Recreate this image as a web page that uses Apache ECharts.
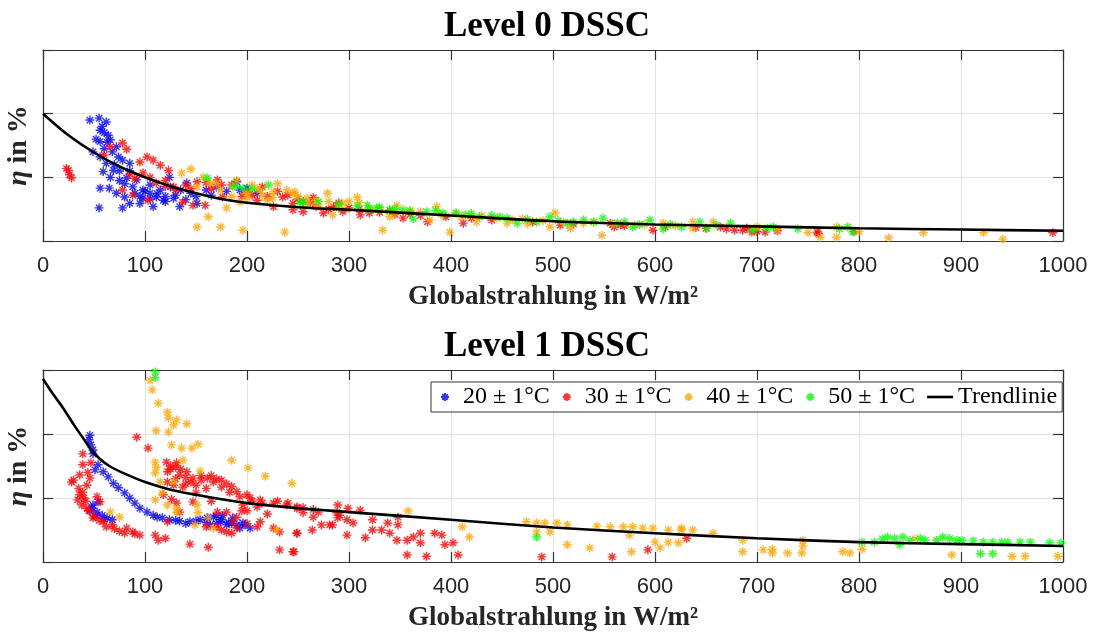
<!DOCTYPE html>
<html lang="de">
<head>
    <meta charset="UTF-8">
    <title>Level 0 / Level 1 DSSC</title>
    <script type="text/javascript" src="https://cdn.jsdelivr.net/npm/echarts@6/dist/echarts.min.js"></script>
</head>
<body style="margin:0; background:#fff;">
<div id="chart" style="width:1094px; height:635px;"></div>

<script type="text/javascript">
    // x-Achse: Globalstrahlung in W/m², y: Wirkungsgrad (Skala ohne Beschriftung, 0..3)
    var xTicks = [0, 100, 200, 300, 400, 500, 600, 700, 800, 900, 1000];
    var seriesNames = ['20 ± 1°C', '30 ± 1°C', '40 ± 1°C', '50 ± 1°C', 'Trendlinie'];

    // ---- Level 0 ----
    var l0Blue = [
        [46,1.90],[55,1.93],[62,1.87],[56,1.74],[64,1.66],[56,1.56],[66,1.59],[49,1.40],[56,1.32],[62,1.22],
        [72,1.48],[74,1.32],[69,1.11],[59,1.09],[78,1.27],[85,1.22],[82,0.99],[56,0.83],[65,0.83],[72,0.75],
        [80,0.69],[85,0.59],[95,0.59],[55,0.52],[78,0.52],[92,0.96],[98,0.80],[105,0.75],[111,0.69],[118,0.64],
        [124,1.00],[128,0.67],[134,0.54],[141,0.91],[151,0.59],[108,0.54],[190,0.93],[193,0.80],[98,0.67],[115,0.80],
        [105,0.88],[80,0.90],[88,0.85],[100,0.78],[112,0.74],[120,0.70],[130,0.72],[140,0.65],[145,0.75],[160,0.80],
        [170,0.85],[180,0.78],[200,0.83],[210,0.75],[52,1.60],[60,1.45],[68,1.40],[70,1.20],[66,1.00],[75,0.95],
        [90,0.75],[95,0.70],[105,0.66],[120,0.62],[150,0.70],[165,0.72],[125,0.85],[135,0.80],[60,1.70],[58,1.80],
        [63,1.55],[75,1.10],[85,1.10]
    ];
    var l0Red = [
        [25,1.11],[26,1.04],[28,0.99],[23,1.14],[78,1.54],[82,1.44],[95,1.24],[102,1.32],[108,1.27],[115,1.19],
        [123,1.11],[98,1.07],[105,1.00],[78,0.80],[88,0.72],[103,0.64],[111,0.91],[128,0.85],[137,0.61],[147,0.56],
        [159,0.56],[151,0.93],[171,0.96],[176,0.69],[200,0.77],[210,0.64],[226,0.54],[235,0.69],[245,0.49],[245,0.59],
        [255,0.46],[268,0.54],[275,0.44],[285,0.54],[294,0.46],[311,0.41],[320,0.44],[353,0.36],[377,0.30],[412,0.28],
        [507,0.25],[556,0.28],[566,0.25],[598,0.17],[664,0.22],[678,0.17],[686,0.17],[695,0.14],[708,0.14],[759,0.14],
        [990,0.13],[60,1.35],[66,1.48],[120,0.95],[140,0.88],[165,0.82],[185,0.88],[195,0.70],[215,0.85],[230,0.78],
        [240,0.72],[255,0.62],[265,0.68],[290,0.60],[300,0.52],[340,0.48],[360,0.42],[395,0.38],[440,0.33],[480,0.30],
        [520,0.27],[650,0.20],[720,0.16],[760,0.12],[795,0.15],[205,0.72],[220,0.70],[250,0.66],[262,0.60],[280,0.50],
        [310,0.50],[330,0.45],[345,0.42],[370,0.40],[420,0.36],[560,0.22],[570,0.24],[610,0.22],[640,0.21],[670,0.19],
        [690,0.20],[700,0.15],[175,0.88],[160,0.92],[145,0.82],[130,0.80],[120,0.86],[90,0.98],[85,1.05]
    ];
    var l0Orange = [
        [136,1.07],[145,1.13],[157,1.00],[151,0.85],[164,0.91],[174,0.80],[186,0.85],[200,0.75],[213,0.80],[226,0.77],
        [239,0.80],[245,0.75],[193,0.61],[180,0.52],[162,0.38],[151,0.22],[174,0.22],[196,0.17],[237,0.14],[220,0.64],
        [247,0.77],[259,0.67],[268,0.64],[279,0.75],[294,0.59],[308,0.69],[284,0.41],[333,0.17],[347,0.56],[340,0.38],
        [386,0.54],[379,0.33],[399,0.14],[405,0.44],[425,0.30],[455,0.28],[475,0.27],[502,0.44],[497,0.22],[517,0.20],
        [548,0.09],[608,0.28],[637,0.30],[657,0.30],[637,0.20],[750,0.13],[762,0.06],[778,0.22],[778,0.06],[829,0.05],
        [863,0.13],[922,0.13],[941,0.03],[170,0.90],[190,0.95],[205,0.88],[230,0.90],[250,0.70],[280,0.62],[310,0.60],
        [320,0.52],[360,0.48],[420,0.40],[470,0.35],[540,0.30],[580,0.25],[700,0.22],[720,0.18],[800,0.15],[215,0.72],
        [225,0.68],[260,0.58],[270,0.55],[290,0.52],[300,0.62],[330,0.50],[345,0.45],[370,0.46],[390,0.42],[410,0.38],
        [430,0.40],[445,0.36],[460,0.33],[490,0.32],[510,0.30],[530,0.28],[560,0.27],[590,0.26],[620,0.24],[185,0.70],
        [200,0.68],[210,0.82]
    ];
    var l0Green = [
        [161,0.99],[188,0.86],[196,0.83],[205,0.82],[221,0.88],[252,0.61],[255,0.61],[308,0.55],[318,0.56],[327,0.52],
        [340,0.49],[353,0.49],[363,0.35],[376,0.46],[392,0.44],[405,0.44],[414,0.41],[428,0.38],[448,0.38],[465,0.28],
        [484,0.30],[497,0.38],[514,0.28],[530,0.33],[549,0.36],[563,0.28],[578,0.22],[595,0.33],[608,0.19],[626,0.22],
        [644,0.30],[651,0.20],[674,0.28],[696,0.17],[710,0.20],[716,0.22],[740,0.19],[781,0.19],[789,0.22],[794,0.14],
        [320,0.50],[330,0.53],[345,0.51],[360,0.47],[385,0.48],[420,0.43],[440,0.40],[455,0.36],[475,0.34],[505,0.32],
        [520,0.30],[540,0.30],[570,0.30],[585,0.26],[615,0.26],[660,0.25],[290,0.58],[270,0.62]
    ];
    var l0Trend = [
        [0,2.00],[25,1.66],[50,1.39],[75,1.17],[100,1.00],[125,0.86],[150,0.75],[175,0.66],[200,0.60],[250,0.53],
        [300,0.49],[400,0.40],[500,0.31],[600,0.26],[700,0.23],[800,0.20],[900,0.18],[1000,0.16]
    ];

    // ---- Level 1 ----
    var l1Blue = [
        [46,1.98],[45,1.91],[47,1.83],[49,1.75],[49,1.69],[54,1.52],[51,1.44],[59,1.41],[64,1.33],[69,1.23],
        [74,1.16],[80,1.08],[85,1.00],[90,0.92],[95,0.84],[102,0.78],[108,0.73],[117,0.69],[124,0.66],[134,0.64],
        [144,0.63],[154,0.66],[161,0.69],[167,0.70],[176,0.73],[186,0.69],[196,0.61],[203,0.53],[49,0.89],[48,0.84],
        [53,0.78],[58,0.73],[63,0.69],[54,0.94],[174,0.63],[180,0.58],[193,0.53],[164,0.58],[112,0.70],[130,0.65],
        [150,0.64],[170,0.72],[185,0.60],[140,0.60],[160,0.62],[175,0.66],[182,0.62],[190,0.58],[198,0.58],[170,0.60],
        [46,0.80],[52,0.72],[60,0.67],[68,0.66]
    ];
    var l1Red = [
        [28,1.25],[36,1.36],[39,1.69],[39,1.52],[46,1.31],[43,1.20],[39,1.09],[34,0.97],[38,0.89],[43,0.84],
        [53,1.02],[56,0.94],[49,0.69],[59,0.63],[68,0.58],[82,0.53],[88,0.47],[95,0.42],[110,0.42],[113,0.34],
        [120,0.37],[144,0.28],[162,0.23],[92,1.95],[103,1.78],[121,1.56],[131,1.55],[122,1.41],[134,1.36],[141,1.41],
        [147,1.31],[122,1.25],[128,1.20],[137,1.17],[161,1.31],[167,1.25],[175,1.17],[183,1.09],[193,1.02],[203,1.00],
        [213,0.97],[226,0.92],[239,0.89],[249,0.84],[131,0.92],[134,0.78],[147,0.94],[171,0.78],[180,0.78],[186,0.63],
        [190,0.53],[196,0.89],[213,0.63],[226,0.53],[232,0.47],[249,0.45],[232,0.19],[245,0.16],[180,0.47],[122,0.63],
        [249,0.86],[255,0.77],[265,0.70],[249,0.45],[264,0.50],[246,0.16],[273,0.58],[284,0.58],[289,0.89],[289,0.69],
        [298,0.66],[298,0.42],[299,0.84],[311,0.81],[304,0.61],[323,0.66],[316,0.38],[323,0.50],[332,0.50],[338,0.61],
        [340,0.45],[348,0.70],[348,0.58],[347,0.34],[357,0.34],[357,0.11],[363,0.39],[370,0.45],[370,0.30],[376,0.09],
        [384,0.45],[391,0.42],[394,0.27],[402,0.30],[407,0.11],[489,0.08],[558,0.08],[593,0.19],[631,0.37],[288,0.77],
        [291,0.73],[281,0.58],[125,1.50],[130,1.30],[140,1.22],[155,1.28],[160,1.15],[150,1.08],[118,1.05],[126,0.98],
        [165,0.95],[200,0.80],[210,0.86],[220,0.75],[125,1.45],[130,1.48],[135,1.45],[140,1.32],[145,1.25],[150,1.20],
        [155,1.35],[165,1.35],[170,1.30],[175,1.28],[180,1.22],[185,1.18],[190,1.10],[200,1.05],[205,0.95],[215,0.92],
        [230,0.95],[240,0.92],[255,0.85],[265,0.82],[270,0.78],[160,0.55],[170,0.55],[175,0.50],[185,0.45],[190,0.70],
        [195,0.80],[200,0.60],[210,0.55],[40,1.00],[42,0.95],[45,0.80],[50,0.72],[55,0.65],[62,0.55],[70,0.52],
        [75,0.48],[80,0.45],[90,0.44],[35,1.15],[30,1.28],[44,1.40],[47,1.55],[36,1.05]
    ];
    var l1Orange = [
        [105,2.84],[107,2.69],[113,2.48],[122,2.34],[123,2.25],[131,2.22],[128,2.14],[141,2.16],[111,2.05],[123,2.03],
        [126,1.83],[136,1.78],[146,1.78],[152,1.84],[185,1.59],[201,1.47],[218,1.34],[244,1.23],[110,1.56],[111,1.48],
        [110,1.39],[115,1.25],[137,1.59],[154,1.42],[128,1.25],[117,1.08],[110,0.97],[122,0.89],[131,0.84],[131,0.77],
        [151,0.89],[152,0.77],[66,0.78],[75,0.70],[162,0.69],[149,0.58],[167,0.53],[229,0.50],[358,0.80],[411,0.55],
        [418,0.39],[474,0.63],[484,0.61],[492,0.61],[504,0.61],[514,0.58],[484,0.47],[497,0.47],[514,0.27],[536,0.22],
        [543,0.56],[556,0.55],[569,0.55],[575,0.42],[578,0.55],[588,0.53],[598,0.53],[577,0.16],[600,0.31],[605,0.22],
        [613,0.50],[613,0.31],[623,0.30],[626,0.50],[626,0.53],[637,0.50],[657,0.45],[686,0.34],[686,0.16],[706,0.19],
        [715,0.20],[715,0.14],[730,0.14],[744,0.14],[745,0.34],[745,0.25],[784,0.16],[791,0.14],[803,0.20],[855,0.36],
        [891,0.11],[950,0.09],[963,0.09],[995,0.09]
    ];
    var l1Green = [
        [110,2.97],[110,2.88],[484,0.39],[803,0.31],[815,0.31],[823,0.36],[828,0.39],[835,0.37],[840,0.27],[843,0.39],
        [850,0.34],[860,0.37],[865,0.34],[876,0.34],[882,0.39],[889,0.37],[896,0.34],[901,0.34],[912,0.33],[922,0.31],
        [931,0.31],[940,0.31],[946,0.31],[958,0.31],[968,0.31],[987,0.30],[998,0.30],[919,0.13],[931,0.13]
    ];
    var l1Trend = [
        [0,2.86],[10,2.62],[20,2.40],[30,2.15],[40,1.92],[47,1.76],[55,1.62],[65,1.50],[80,1.38],[100,1.25],
        [125,1.13],[150,1.05],[175,0.98],[200,0.92],[250,0.84],[300,0.78],[400,0.66],[500,0.54],[600,0.45],[700,0.37],
        [800,0.31],[900,0.28],[1000,0.25]
    ];

    var star = 'path://M5,0L5,10M0,5L10,5M1.5,1.5L8.5,8.5M1.5,8.5L8.5,1.5';
    var lineIcon = 'path://M0,0L26,0L26,2.6L0,2.6Z';
    var colors = ['#0000ff', '#ff0000', '#ffa500', '#00ff00'];
    var serif = 'Liberation Serif';
    var axisCol = '#333333';

    function scatter(name, data, col, gi) {
        return {
            name: name, type: 'scatter', xAxisIndex: gi * 2, yAxisIndex: gi * 2,
            data: data, symbol: star, symbolSize: 9,
            itemStyle: { color: col, borderColor: col, borderWidth: 1.4 },
            emphasis: { disabled: true }
        };
    }
    function trend(data, gi) {
        return {
            name: 'Trendlinie', type: 'line', xAxisIndex: gi * 2, yAxisIndex: gi * 2,
            data: data, smooth: 0.3, showSymbol: false, symbol: 'none', z: 5,
            lineStyle: { color: '#000', width: 2.6 }, itemStyle: { color: '#000' }
        };
    }
    function xMain(gi) {
        return {
            type: 'value', gridIndex: gi, min: 0, max: 1000, interval: 100,
            name: 'Globalstrahlung in W/m²', nameLocation: 'middle', nameGap: 43,
            nameTextStyle: { fontFamily: serif, fontWeight: 'bold', fontSize: 27, color: '#262626' },
            axisLine: { onZero: false, lineStyle: { color: axisCol, width: 1.2 } },
            axisTick: { inside: true, length: 10, lineStyle: { color: axisCol, width: 1.2 } },
            axisLabel: { margin: 14, fontFamily: 'Liberation Sans', fontSize: 22, color: '#262626',
                         formatter: function (v) { return String(v); } },
            splitLine: { show: true, lineStyle: { color: '#e3e3e3', width: 1 } }
        };
    }
    function xTop(gi) {
        return {
            type: 'value', gridIndex: gi, position: 'top', min: 0, max: 1000, interval: 100,
            axisLine: { onZero: false, lineStyle: { color: axisCol, width: 1.2 } },
            axisTick: { inside: true, length: 10, lineStyle: { color: axisCol, width: 1.2 } },
            axisLabel: { show: false }, splitLine: { show: false }
        };
    }
    function yMain(gi) {
        return {
            type: 'value', gridIndex: gi, min: 0, max: 3, interval: 1,
            name: '{i|η} in %', nameLocation: 'middle', nameGap: 10,
            nameTextStyle: {
                fontFamily: serif, fontWeight: 'bold', fontSize: 28, color: '#262626',
                rich: { i: { fontFamily: serif, fontStyle: 'italic', fontWeight: 'bold', fontSize: 28, color: '#262626' } }
            },
            axisLine: { show: true, onZero: false, lineStyle: { color: axisCol, width: 1.2 } },
            axisTick: { show: true, inside: true, length: 10, lineStyle: { color: axisCol, width: 1.2 } },
            axisLabel: { show: false },
            splitLine: { show: true, lineStyle: { color: '#e3e3e3', width: 1 } }
        };
    }
    function yRight(gi) {
        return {
            type: 'value', gridIndex: gi, position: 'right', min: 0, max: 3, interval: 1,
            axisLine: { show: true, onZero: false, lineStyle: { color: axisCol, width: 1.2 } },
            axisTick: { show: true, inside: true, length: 10, lineStyle: { color: axisCol, width: 1.2 } },
            axisLabel: { show: false }, splitLine: { show: false }
        };
    }

    var myChart = echarts.init(document.getElementById('chart'));
    myChart.setOption({
        animation: false,
        title: [
            { text: 'Level 0 DSSC', left: 'center', top: 4,
              textStyle: { fontFamily: serif, fontWeight: 'bold', fontSize: 35, color: '#000' } },
            { text: 'Level 1 DSSC', left: 'center', top: 324,
              textStyle: { fontFamily: serif, fontWeight: 'bold', fontSize: 35, color: '#000' } }
        ],
        grid: [
            { left: 43, top: 50, width: 1020, height: 191, outerBoundsMode: 'none', containLabel: false },
            { left: 43, top: 370, width: 1020, height: 192, outerBoundsMode: 'none', containLabel: false }
        ],
        xAxis: [xMain(0), xTop(0), xMain(1), xTop(1)],
        yAxis: [yMain(0), yRight(0), yMain(1), yRight(1)],
        legend: {
            data: [
                { name: seriesNames[0], icon: star },
                { name: seriesNames[1], icon: star },
                { name: seriesNames[2], icon: star },
                { name: seriesNames[3], icon: star },
                { name: seriesNames[4], icon: lineIcon }
            ],
            left: 431, top: 382,
            orient: 'horizontal', itemGap: 12, itemWidth: 26, itemHeight: 8,
            padding: [3, 5, 3, 9], borderColor: '#333', borderWidth: 1, backgroundColor: '#fff',
            textStyle: { fontFamily: serif, fontSize: 24, color: '#000' }
        },
        series: [
            scatter(seriesNames[0], l0Blue, colors[0], 0),
            scatter(seriesNames[1], l0Red, colors[1], 0),
            scatter(seriesNames[2], l0Orange, colors[2], 0),
            scatter(seriesNames[3], l0Green, colors[3], 0),
            trend(l0Trend, 0),
            scatter(seriesNames[0], l1Blue, colors[0], 1),
            scatter(seriesNames[1], l1Red, colors[1], 1),
            scatter(seriesNames[2], l1Orange, colors[2], 1),
            scatter(seriesNames[3], l1Green, colors[3], 1),
            trend(l1Trend, 1)
        ]
    });
</script>

</body>
</html>
